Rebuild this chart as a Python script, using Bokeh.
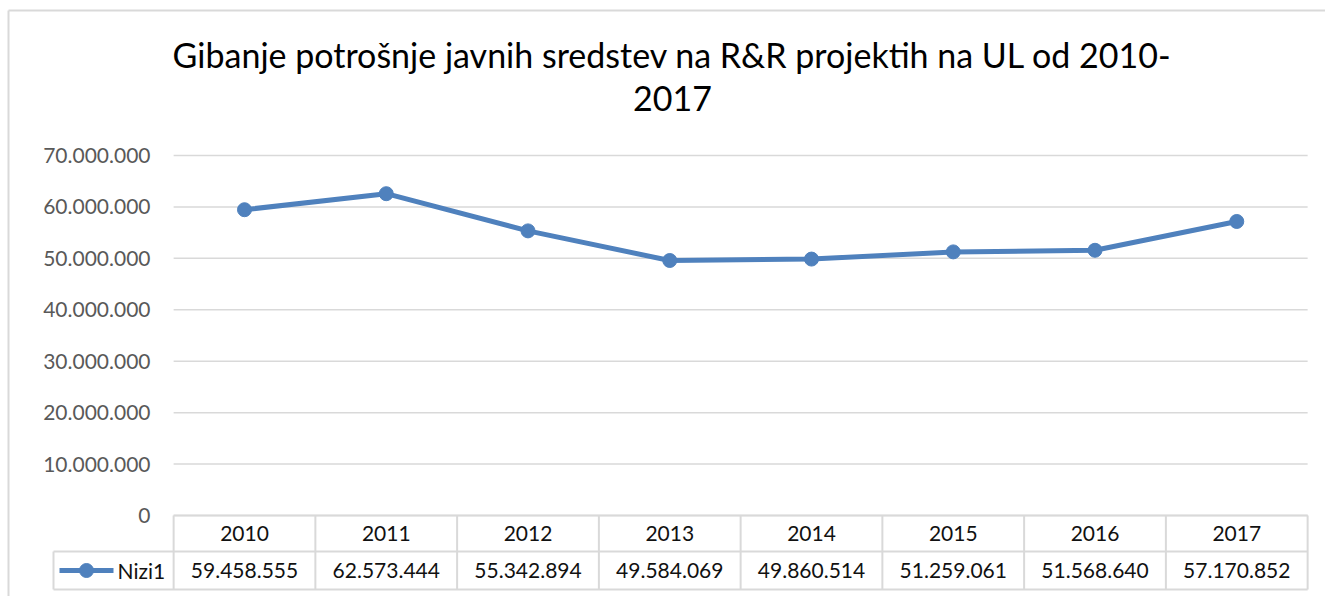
from bokeh.plotting import figure
from bokeh.models import Range1d
from bokeh.core.properties import value
from bokeh.embed import file_html
from bokeh.resources import INLINE

# ---- data ----
years = ["2010", "2011", "2012", "2013", "2014", "2015", "2016", "2017"]
values = [59458555, 62573444, 55342894, 49584069, 49860514, 51259061, 51568640, 57170852]
y_ticks = [0, 10000000, 20000000, 30000000, 40000000, 50000000, 60000000, 70000000]
series_name = "Nizi1"
title_lines = ["Gibanje potrošnje javnih sredstev na R&R projektih na UL od 2010-", "2017"]


def fmt(v):
    return f"{v:,}".replace(",", ".")

y_tick_labels = [fmt(t) for t in y_ticks]
value_labels = [fmt(v) for v in values]

# ---- layout mapping (canvas pixels -> data) ----
W, H = 1325, 596
X0_PX, DX_PX = 244.0, 141.75          # x of first category centre, px per category
Y0_PX = 515.0                         # y of value 0
DY_PX = 360.0 / 70000000.0            # px per unit


def px_x(px):
    return (px - X0_PX) / DX_PX


def px_y(py):
    return (Y0_PX - py) / DY_PX

FONT = "Lato"
BLUE = "#4F81BD"
GRID = "#D9D9D9"

p = figure(width=W, height=H, output_backend="svg", toolbar_location=None,
           x_range=Range1d(px_x(0), px_x(W)), y_range=Range1d(px_y(H), px_y(0)),
           x_axis_location=None, y_axis_location=None, min_border=0)
p.outline_line_color = None
p.xgrid.visible = False
p.ygrid.visible = False
p.background_fill_color = "white"
p.border_fill_color = "white"

n = len(years)
xs = list(range(n))

# chart border (top/left visible)
p.segment(x0=[px_x(8)], y0=[px_y(10)], x1=[px_x(1340)], y1=[px_y(10)], line_color=GRID, line_width=2)
p.segment(x0=[px_x(8)], y0=[px_y(10)], x1=[px_x(8)], y1=[px_y(610)], line_color=GRID, line_width=2)

# gridlines
p.segment(x0=[-0.5] * len(y_ticks), y0=y_ticks, x1=[n - 0.5] * len(y_ticks), y1=y_ticks,
          line_color=GRID, line_width=1.5)

# y tick labels
p.text(x=[px_x(150)] * len(y_ticks), y=y_ticks, text=y_tick_labels,
       text_align="right", text_baseline="middle", text_font=value(FONT),
       text_font_size="21px", text_color="#595959")

# series
p.line(xs, values, line_color=BLUE, line_width=5)
p.scatter(xs, values, size=14, fill_color=BLUE, line_color=BLUE)

# data table
row_mid_y = px_y(551)
row_bot_y = px_y(589)
leg_left = px_x(53)
p.segment(x0=[k - 0.5 for k in range(n + 1)], y0=[0] * (n + 1),
          x1=[k - 0.5 for k in range(n + 1)], y1=[row_bot_y] * (n + 1),
          line_color=GRID, line_width=2)
p.segment(x0=[-0.5, leg_left, leg_left, leg_left], y0=[0, row_mid_y, row_bot_y, row_mid_y],
          x1=[n - 0.5, n - 0.5, n - 0.5, leg_left], y1=[0, row_mid_y, row_bot_y, row_bot_y],
          line_color=GRID, line_width=2)

p.text(x=xs, y=[px_y(533)] * n, text=years, text_align="center", text_baseline="middle",
       text_font=value(FONT), text_font_size="21px", text_color="#111111")
p.text(x=xs, y=[px_y(570)] * n, text=value_labels, text_align="center", text_baseline="middle",
       text_font=value(FONT), text_font_size="21px", text_color="#111111")

# legend key
p.line([px_x(59), px_x(113)], [px_y(570), px_y(570)], line_color=BLUE, line_width=5)
p.scatter([px_x(86)], [px_y(570)], size=14, fill_color=BLUE, line_color=BLUE)
p.text(x=[px_x(117)], y=[px_y(570)], text=[series_name], text_align="left", text_baseline="middle",
       text_font=value(FONT), text_font_size="21px", text_color="#111111")

# title
p.text(x=[px_x(672), px_x(672)], y=[px_y(54), px_y(98)], text=title_lines,
       text_align="center", text_baseline="middle", text_font=value(FONT),
       text_font_size="34px", text_color="#000000")

open("out.html", "w").write(file_html(p, INLINE))
